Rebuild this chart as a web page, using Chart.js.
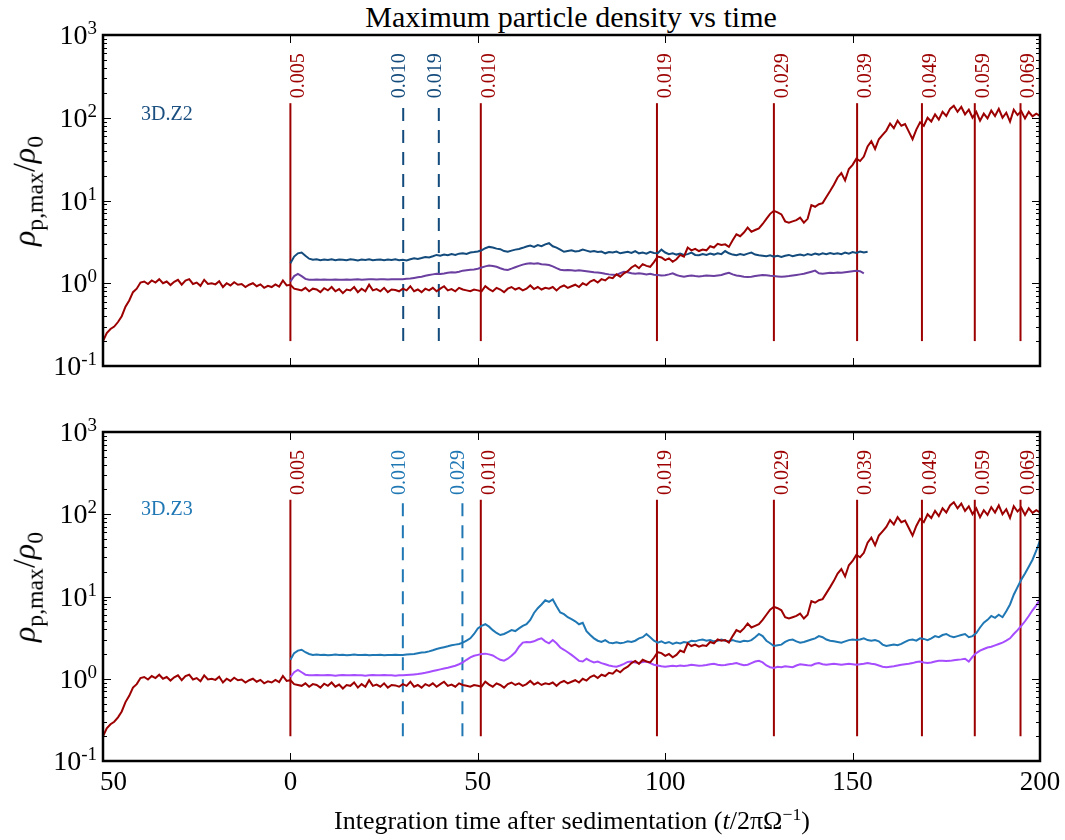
<!DOCTYPE html>
<html>
<head>
<meta charset="utf-8">
<script src="https://cdn.jsdelivr.net/npm/chart.js@4.4.1/dist/chart.umd.min.js"></script>
<style>
  html, body { margin: 0; padding: 0; background: #fff; }
  #wrap { position: relative; width: 1065px; height: 840px; overflow: hidden; font-family: "Liberation Serif", "DejaVu Serif", serif; color: #000; }
  canvas { position: absolute; left: 0; }
  .title { position: absolute; left: 571px; top: 17px; transform: translate(-50%, -50%); font-size: 30px; white-space: nowrap; }
  .xtitle { position: absolute; left: 572px; top: 820px; transform: translate(-50%, -50%); font-size: 26px; white-space: nowrap; }
  .ytitle { position: absolute; left: 27px; transform: translate(-50%, -50%) rotate(-90deg); font-size: 32px; white-space: nowrap; }
  .ytitle sub { font-size: 0.74em; vertical-align: -0.32em; }
  .xtitle sup { font-size: 0.68em; vertical-align: 0.55em; }
  .panel { position: absolute; left: 141px; transform: translateY(-50%); font-size: 20px; white-space: nowrap; }
</style>
</head>
<body>
<div id="wrap">
  <div class="title">Maximum particle density vs time</div>
  <canvas id="c1" width="1065" height="400" style="top:0px"></canvas>
  <canvas id="c2" width="1065" height="440" style="top:400px"></canvas>
  <div class="ytitle" style="top:191px"><i>ρ</i><sub>p,max</sub>/<i>ρ</i><sub>0</sub></div>
  <div class="ytitle" style="top:587px"><i>ρ</i><sub>p,max</sub>/<i>ρ</i><sub>0</sub></div>
  <div class="panel" style="top:113px; color:#1a4f80">3D.Z2</div>
  <div class="panel" style="top:508px; color:#1f77b4">3D.Z3</div>
  <div class="xtitle">Integration time after sedimentation (<i>t</i>/2πΩ<sup>−1</sup>)</div>
</div>
<script>
// ---------------- DATA ----------------
// Red run (shared by both panels): t = -50 .. 200, step 1
const redStart = -50, redStep = 1;
const redVals = [
 0.20,0.25,0.28,0.30,0.34,0.40,0.52,0.62,0.78,0.86,
 1.02,1.05,0.98,1.08,1.02,1.12,1.00,1.05,0.95,1.04,
 1.10,0.96,1.08,1.12,0.98,1.02,0.93,1.10,0.98,1.00,
 0.97,1.06,0.90,1.00,0.94,1.03,0.96,0.98,0.90,0.96,
 1.00,0.92,0.97,0.88,0.93,0.90,0.97,0.91,1.08,0.94,
 0.96,
 0.86,0.84,0.82,0.88,0.80,0.86,0.84,0.78,0.87,0.82,
 0.90,0.80,0.85,0.76,0.84,0.82,0.90,0.78,0.86,0.80,
 0.96,0.82,0.85,0.80,0.88,0.78,0.84,0.83,0.80,0.86,
 0.82,0.92,0.80,0.84,0.78,0.86,0.82,0.88,0.80,0.86,
 0.92,0.82,0.85,0.80,0.88,0.84,0.82,0.80,0.84,0.82,
 0.80,0.92,0.85,0.80,0.88,0.84,0.78,0.86,0.90,0.84,
 0.88,0.82,0.86,0.94,0.85,0.90,0.84,0.88,0.86,0.90,
 0.82,0.90,0.94,0.88,0.92,0.96,0.90,1.00,0.95,1.05,
 1.10,1.02,1.12,1.08,1.18,1.15,1.28,1.20,1.32,1.40,
 1.55,1.65,1.52,1.70,1.62,1.58,1.80,2.10,2.05,1.90,
 2.00,1.82,1.95,2.20,2.10,2.70,2.50,2.60,2.45,2.55,
 2.50,2.80,2.70,3.00,2.90,2.95,2.75,3.30,3.90,3.70,
 4.10,4.70,4.20,4.40,4.60,5.20,6.00,6.90,7.50,7.20,
 6.80,5.60,5.40,5.60,5.80,6.20,5.40,6.00,8.80,8.40,
 9.00,9.30,11.0,13.0,15.5,19.0,21.5,17.5,24.0,27.0,
 32,30,34,45,52,42,55,62,70,85,
 75,92,80,84,68,55,72,88,80,100,
 90,110,95,118,105,128,140,118,135,110,
 125,100,118,92,112,98,122,105,128,100,
 115,90,125,108,120,98,118,104,112,105
];

// 3D.Z2 panel: t = 0 .. 154, step 1
const z2Start = 0, z2Step = 1;
const z2BlueVals = [
 1.75,2.10,2.30,2.35,2.15,1.98,1.92,1.95,1.90,1.93,
 1.91,1.95,1.90,1.94,1.92,1.90,1.95,1.92,1.89,1.93,
 1.91,1.95,1.90,1.92,1.94,1.90,1.93,1.91,1.95,1.90,
 1.92,1.88,1.95,2.00,1.97,2.02,2.08,2.05,2.12,2.20,
 2.15,2.22,2.18,2.25,2.20,2.28,2.30,2.26,2.35,2.38,
 2.42,2.50,2.65,2.75,2.70,2.62,2.58,2.45,2.40,2.48,
 2.55,2.60,2.68,2.78,2.85,2.75,2.90,2.80,2.95,3.05,
 2.80,2.70,2.55,2.40,2.45,2.50,2.42,2.45,2.55,2.48,
 2.40,2.45,2.38,2.42,2.30,2.38,2.35,2.42,2.30,2.35,
 2.40,2.32,2.45,2.30,2.35,2.28,2.40,2.32,2.30,2.55,
 2.35,2.25,2.30,2.22,2.28,2.20,2.25,2.35,2.20,2.18,
 2.25,2.20,2.28,2.22,2.30,2.25,2.45,2.30,2.22,2.18,
 2.25,2.20,2.28,2.35,2.22,2.18,2.15,2.12,2.18,2.10,
 2.15,2.08,2.15,2.20,2.12,2.18,2.22,2.16,2.25,2.20,
 2.28,2.22,2.30,2.25,2.32,2.26,2.30,2.25,2.35,2.28,
 2.38,2.32,2.42,2.35,2.40
];
const z2PurpleVals = [
 1.05,1.22,1.30,1.22,1.13,1.10,1.10,1.11,1.10,1.11,
 1.10,1.10,1.11,1.10,1.10,1.11,1.10,1.11,1.12,1.10,
 1.11,1.12,1.12,1.11,1.12,1.12,1.11,1.12,1.12,1.12,
 1.12,1.13,1.14,1.16,1.18,1.20,1.23,1.26,1.28,1.30,
 1.29,1.31,1.34,1.36,1.35,1.38,1.42,1.44,1.46,1.47,
 1.50,1.55,1.60,1.64,1.62,1.58,1.52,1.47,1.45,1.50,
 1.56,1.62,1.68,1.72,1.74,1.72,1.74,1.70,1.68,1.66,
 1.60,1.52,1.46,1.44,1.45,1.44,1.42,1.44,1.42,1.40,
 1.38,1.36,1.35,1.33,1.30,1.28,1.27,1.26,1.32,1.38,
 1.36,1.32,1.30,1.32,1.30,1.28,1.30,1.27,1.26,1.24,
 1.25,1.28,1.32,1.26,1.22,1.20,1.22,1.24,1.22,1.21,
 1.22,1.24,1.23,1.22,1.24,1.26,1.30,1.34,1.28,1.24,
 1.22,1.20,1.19,1.20,1.22,1.24,1.26,1.25,1.23,1.22,
 1.21,1.20,1.21,1.22,1.24,1.26,1.28,1.30,1.34,1.38,
 1.42,1.32,1.30,1.32,1.34,1.33,1.35,1.34,1.36,1.38,
 1.40,1.42,1.40,1.32
];

// 3D.Z3 panel: t = 0 .. 200, step 1
const z3Start = 0, z3Step = 1;
const z3BlueVals = [
 1.70,2.05,2.20,2.25,2.10,2.00,1.95,1.97,1.94,1.96,
 1.93,1.95,1.97,1.94,1.96,1.93,1.95,1.97,1.94,1.95,
 1.96,1.93,1.95,1.94,1.96,1.93,1.95,1.94,1.96,1.95,
 1.95,1.97,1.99,2.00,2.04,2.08,2.10,2.15,2.22,2.30,
 2.36,2.42,2.48,2.55,2.60,2.65,2.75,2.90,3.10,3.50,
 4.10,4.40,4.60,4.30,3.90,3.60,3.40,3.50,3.70,3.90,
 3.80,4.10,4.40,4.60,5.20,6.30,7.20,8.00,9.00,8.60,
 9.20,7.60,6.40,6.10,5.60,5.30,5.00,4.60,4.80,3.80,
 3.40,3.10,2.90,2.80,2.95,2.75,2.70,2.78,2.70,2.75,
 2.85,2.80,2.90,3.10,3.20,3.50,3.20,2.90,2.75,2.85,
 2.70,2.80,2.65,2.75,2.68,2.80,2.75,2.90,2.85,2.95,
 3.00,2.90,2.95,2.85,2.90,3.00,2.90,2.85,2.95,2.85,
 2.80,2.90,2.85,2.95,3.20,3.50,3.30,2.90,2.70,2.50,
 2.55,2.60,2.80,2.95,3.00,2.85,2.75,2.80,2.90,3.00,
 3.10,3.30,3.20,3.00,2.90,2.85,2.80,2.75,2.85,2.95,
 3.00,2.95,3.00,3.10,2.95,2.90,2.95,2.85,2.60,2.50,
 2.55,2.60,2.55,2.65,2.80,2.95,3.00,2.90,3.10,3.05,
 2.95,3.10,3.30,3.20,3.40,3.50,3.30,3.20,3.30,3.40,
 3.50,3.20,3.30,3.60,4.20,4.80,5.20,5.80,5.50,6.00,
 5.60,6.60,8.00,10.5,13.0,16.0,19.0,23.0,28.0,36.0,
 48.0
];
const z3PurpleVals = [
 1.05,1.20,1.28,1.20,1.12,1.10,1.10,1.11,1.10,1.10,
 1.11,1.10,1.09,1.10,1.11,1.10,1.10,1.11,1.10,1.10,
 1.09,1.10,1.11,1.10,1.10,1.11,1.10,1.10,1.09,1.10,
 1.10,1.11,1.12,1.13,1.14,1.16,1.18,1.21,1.24,1.27,
 1.30,1.33,1.36,1.40,1.44,1.50,1.58,1.70,1.82,1.90,
 1.95,2.00,2.02,1.98,1.92,1.80,1.70,1.66,1.75,1.90,
 2.10,2.45,2.75,2.80,2.78,2.85,3.00,3.10,2.85,2.70,
 2.95,2.70,2.40,2.25,2.10,1.95,1.80,1.65,1.62,1.75,
 1.65,1.58,1.62,1.55,1.50,1.45,1.42,1.40,1.45,1.52,
 1.60,1.62,1.58,1.55,1.60,1.62,1.55,1.48,1.45,1.42,
 1.40,1.42,1.44,1.42,1.45,1.43,1.45,1.48,1.46,1.44,
 1.45,1.47,1.50,1.52,1.48,1.46,1.47,1.50,1.52,1.55,
 1.50,1.46,1.48,1.55,1.62,1.65,1.58,1.45,1.38,1.35,
 1.40,1.38,1.42,1.40,1.38,1.45,1.50,1.48,1.46,1.45,
 1.52,1.55,1.50,1.48,1.50,1.52,1.50,1.48,1.50,1.52,
 1.50,1.48,1.50,1.52,1.55,1.52,1.50,1.45,1.40,1.38,
 1.40,1.42,1.45,1.48,1.50,1.52,1.55,1.60,1.62,1.58,
 1.55,1.58,1.62,1.65,1.66,1.64,1.65,1.68,1.70,1.72,
 1.75,1.62,1.85,2.05,2.20,2.30,2.40,2.45,2.55,2.65,
 2.75,2.90,3.10,3.50,3.90,4.40,5.00,5.80,6.80,7.80,
 9.20
];

// Vertical marker lines (time, label)
const redMarkTimes  = [0, 50.8, 97.8, 129.0, 151.2, 168.5, 182.6, 194.8];
const redMarkLabels = ["0.005","0.010","0.019","0.029","0.039","0.049","0.059","0.069"];
const z2MarkTimes   = [30.1, 39.6];
const z2MarkLabels  = ["0.010","0.019"];
const z3MarkTimes   = [30.0, 45.9];
const z3MarkLabels  = ["0.010","0.029"];
const markLow = 0.2, markHigh = 150, markLabelBase = 172;

// Axes
const xMin = -50, xMax = 200;
const yMin = 0.1, yMax = 1000;
const xTickValues = [-50, 0, 50, 100, 150, 200];
const xTickLabels = ["50", "0", "50", "100", "150", "200"];
const yTickExponents = [-1, 0, 1, 2, 3];

// ---------------- STYLE ----------------
const RED = '#9c0000';
const Z2_BLUE = '#134b7c', Z2_PURPLE = '#6b3fa0';
const Z3_BLUE = '#1f77b4', Z3_PURPLE = '#a64dff';
const SERIF = '"Liberation Serif", "DejaVu Serif", serif';

function series(start, step, vals) {
  return vals.map((v, i) => ({ x: start + i * step, y: v }));
}
function markDatasets(times, color, dashed) {
  return times.map(t => ({
    data: [{ x: t, y: markLow }, { x: t, y: markHigh }],
    borderColor: color, borderWidth: 2, borderDash: dashed ? [13, 9] : [],
    pointRadius: 0, order: 10
  }));
}

const decor = {
  id: 'decor',
  afterDatasetsDraw(chart, args, opts) {
    const { ctx, chartArea: a, scales: { x, y } } = chart;
    ctx.save();
    // marker labels
    ctx.font = '20px ' + SERIF;
    ctx.textAlign = 'left';
    ctx.textBaseline = 'middle';
    for (const m of opts.marks) {
      const px = x.getPixelForValue(m.t);
      const py = y.getPixelForValue(markLabelBase);
      ctx.save();
      ctx.translate(px + m.dx, py);
      ctx.rotate(-Math.PI / 2);
      ctx.fillStyle = m.color;
      ctx.fillText(m.label, 0, 0);
      ctx.restore();
    }
    // y ticks (major + minor), both sides, inward
    ctx.strokeStyle = '#000';
    ctx.lineWidth = 1;
    ctx.beginPath();
    for (const e of yTickExponents) {
      for (let k = 1; k < 10; k++) {
        const v = k * Math.pow(10, e);
        if (v > yMax * 1.0001) break;
        const py = Math.round(y.getPixelForValue(v)) + 0.5;
        const len = k === 1 ? 8 : 4;
        ctx.moveTo(a.left, py); ctx.lineTo(a.left + len, py);
        ctx.moveTo(a.right, py); ctx.lineTo(a.right - len, py);
      }
    }
    // x ticks top & bottom, inward
    for (const v of xTickValues) {
      const px = Math.round(x.getPixelForValue(v)) + 0.5;
      ctx.moveTo(px, a.bottom); ctx.lineTo(px, a.bottom - 8);
      ctx.moveTo(px, a.top); ctx.lineTo(px, a.top + 8);
    }
    ctx.stroke();
    // frame
    ctx.lineWidth = 2.5;
    ctx.strokeRect(a.left, a.top, a.right - a.left, a.bottom - a.top);
    // y tick labels 10^e
    ctx.fillStyle = '#000';
    ctx.textAlign = 'right';
    ctx.textBaseline = 'alphabetic';
    for (const e of yTickExponents) {
      const py = y.getPixelForValue(Math.pow(10, e));
      const xr = a.left - 6;
      ctx.font = '19px ' + SERIF;
      const es = String(e);
      const ew = ctx.measureText(es).width;
      ctx.fillText(es, xr, py - 1);
      ctx.font = '28px ' + SERIF;
      ctx.fillText('10', xr - ew, py + 9);
    }
    // x tick labels
    if (opts.xLabels) {
      ctx.font = '27px ' + SERIF;
      ctx.textBaseline = 'middle';
      xTickValues.forEach((v, i) => {
        const px = x.getPixelForValue(v);
        if (i === 0) { ctx.textAlign = 'left'; ctx.fillText(xTickLabels[i], px - 3, a.bottom + 22); }
        else { ctx.textAlign = 'center'; ctx.fillText(xTickLabels[i], px, a.bottom + 22); }
      });
    }
    ctx.restore();
  }
};

function makeChart(id, pad, blueVals, purpleVals, start, step, blueColor, purpleColor, dashTimes, dashLabels, xLabels) {
  const marks = [];
  redMarkTimes.forEach((t, i) => marks.push({ t, label: redMarkLabels[i], color: RED, dx: 8.5 }));
  dashTimes.forEach((t, i) => marks.push({ t, label: dashLabels[i], color: blueColor, dx: -3.5 }));
  const datasets = [
    { data: series(redStart, redStep, redVals), borderColor: RED, borderWidth: 2, pointRadius: 0, order: 0 },
    { data: series(start, step, blueVals), borderColor: blueColor, borderWidth: 2, pointRadius: 0, order: 1 },
    { data: series(start, step, purpleVals), borderColor: purpleColor, borderWidth: 2, pointRadius: 0, order: 2 },
    ...markDatasets(redMarkTimes, RED, false),
    ...markDatasets(dashTimes, blueColor, true)
  ];
  return new Chart(document.getElementById(id), {
    type: 'line',
    data: { datasets },
    options: {
      responsive: false,
      animation: false,
      devicePixelRatio: 1,
      layout: { padding: pad },
      elements: { line: { tension: 0 } },
      scales: {
        x: { type: 'linear', min: xMin, max: xMax, display: false },
        y: { type: 'logarithmic', min: yMin, max: yMax, display: false }
      },
      plugins: {
        legend: { display: false },
        tooltip: { enabled: false },
        decor: { marks, xLabels }
      }
    },
    plugins: [decor]
  });
}

makeChart('c1', { left: 103, right: 25, top: 35, bottom: 34 }, z2BlueVals, z2PurpleVals, z2Start, z2Step,
  Z2_BLUE, Z2_PURPLE, z2MarkTimes, z2MarkLabels, false);
makeChart('c2', { left: 103, right: 25, top: 32, bottom: 79 }, z3BlueVals, z3PurpleVals, z3Start, z3Step,
  Z3_BLUE, Z3_PURPLE, z3MarkTimes, z3MarkLabels, true);
</script>
</body>
</html>
